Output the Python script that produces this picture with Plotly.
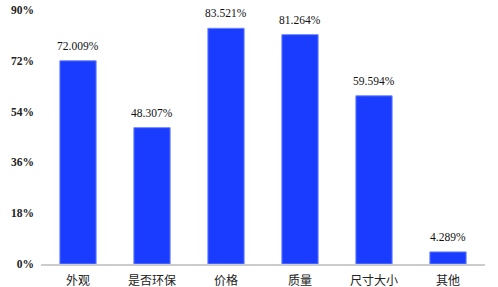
import plotly.graph_objects as go

categories = ["外观", "是否环保", "价格", "质量", "尺寸大小", "其他"]
values = [72.009, 48.307, 83.521, 81.264, 59.594, 4.289]
tick_vals = [0, 18, 36, 54, 72, 90]
tick_text = ["<b>0%</b>", "<b>18%</b>", "<b>36%</b>", "<b>54%</b>", "<b>72%</b>", "<b>90%</b>"]

fig = go.Figure(go.Bar(
    x=categories, y=values,
    marker=dict(color="#1a3cff", line=dict(color="#6d86ff", width=1)),
    cliponaxis=False,
))
for c, v in zip(categories, values):
    fig.add_annotation(x=c, y=v, text=f"{v:.3f}%", showarrow=False,
                       yanchor="bottom", yshift=7,
                       font=dict(family="Liberation Serif, serif", size=11.5, color="#111"))

fig.update_layout(
    width=498, height=287,
    margin=dict(l=41, r=13, t=10, b=23),
    paper_bgcolor="white", plot_bgcolor="white",
    bargap=0.51, showlegend=False,
    font=dict(family="Liberation Serif, serif", color="#111"),
)
fig.update_yaxes(range=[0, 90], tickvals=tick_vals, ticktext=tick_text,
                 showgrid=False, zeroline=False, automargin=False,
                 ticklabeloverflow="allow",
                 tickfont=dict(family="Liberation Serif, serif", size=11.5, color="#222"),
                 ticks="", ticklabelstandoff=6)
fig.update_xaxes(showline=True, linecolor="#cccccc", linewidth=2, automargin=False,
                 ticklabeloverflow="allow",
                 tickfont=dict(family="Noto Sans CJK SC", size=12, color="#222"),
                 ticks="", ticklabelstandoff=5)
fig.write_html("out.html",
               config={"displayModeBar": False},
               post_script="document.body.style.margin='0';document.body.style.overflow='hidden';")
